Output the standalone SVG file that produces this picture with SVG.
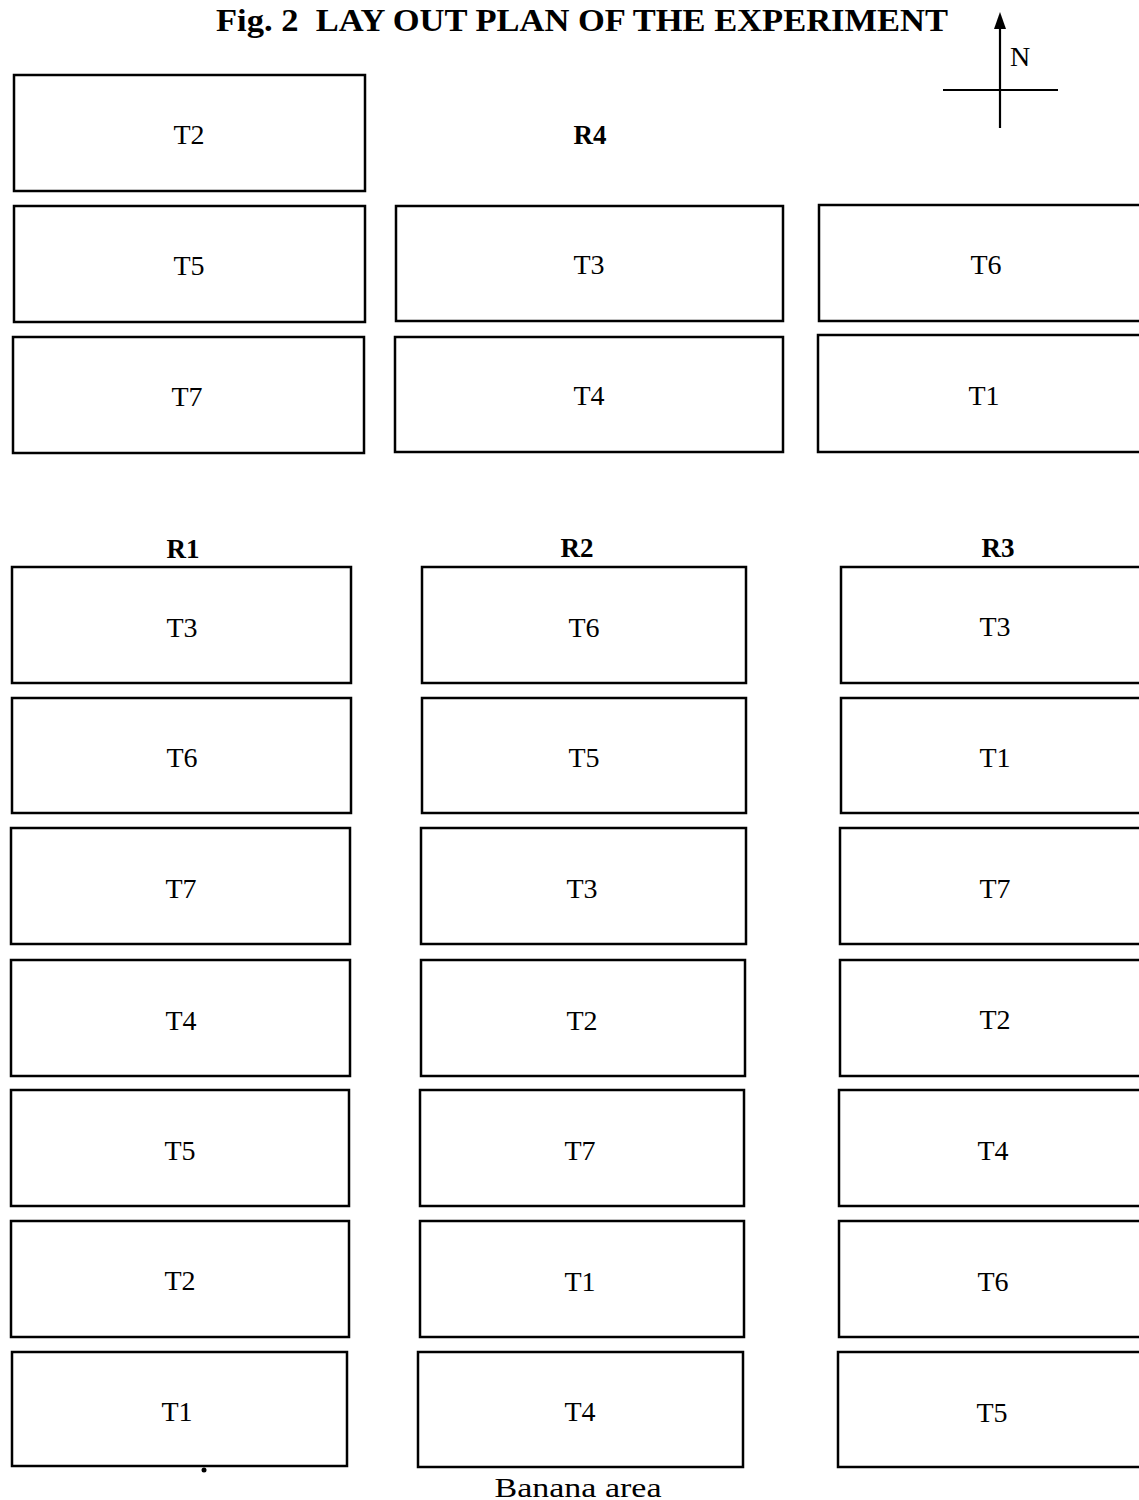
<svg xmlns="http://www.w3.org/2000/svg" width="1139" height="1500" viewBox="0 0 1139 1500">
<style>
.plot{fill:#fff;stroke:#000;stroke-width:2.5}
.lbl{font-family:"Liberation Serif","Times New Roman",serif;font-size:28px;text-anchor:middle;fill:#000}
.rep{font-family:"Liberation Serif","Times New Roman",serif;font-size:27px;font-weight:bold;text-anchor:middle;fill:#000}
.title{font-family:"Liberation Serif","Times New Roman",serif;font-size:32px;font-weight:bold;fill:#000}
</style>
<rect width="1139" height="1500" fill="#fff"/>
<text class="title" x="216" y="31" textLength="732" lengthAdjust="spacingAndGlyphs" xml:space="preserve">Fig. 2  LAY OUT PLAN OF THE EXPERIMENT</text>
<g id="compass">
<line x1="1000" y1="128" x2="1000" y2="24" stroke="#000" stroke-width="2.2"/>
<polygon points="1000,12 994,29 1006,29" fill="#000"/>
<line x1="943" y1="90" x2="1058" y2="90" stroke="#000" stroke-width="2.2"/>
<text class="lbl" x="1020" y="66">N</text>
</g>
<text class="rep" x="590" y="144">R4</text>
<text class="rep" x="183" y="558">R1</text>
<text class="rep" x="577" y="557">R2</text>
<text class="rep" x="998" y="557">R3</text>
<g id="r4-t2"><rect class="plot" x="14" y="75" width="351" height="116"/><text class="lbl" x="189" y="144">T2</text></g>
<g id="r4-t5"><rect class="plot" x="14" y="206" width="351" height="116"/><text class="lbl" x="189" y="275">T5</text></g>
<g id="r4-t3"><rect class="plot" x="396" y="206" width="387" height="115"/><text class="lbl" x="589" y="274">T3</text></g>
<g id="r4-t6"><rect class="plot" x="819" y="205" width="330" height="116"/><text class="lbl" x="986" y="274">T6</text></g>
<g id="r4-t7"><rect class="plot" x="13" y="337" width="351" height="116"/><text class="lbl" x="187" y="406">T7</text></g>
<g id="r4-t4"><rect class="plot" x="395" y="337" width="388" height="115"/><text class="lbl" x="589" y="405">T4</text></g>
<g id="r4-t1"><rect class="plot" x="818" y="335" width="331" height="117"/><text class="lbl" x="984" y="405">T1</text></g>

<g id="r1-t3"><rect class="plot" x="12" y="567" width="339" height="116"/><text class="lbl" x="182" y="637">T3</text></g>
<g id="r1-t6"><rect class="plot" x="12" y="698" width="339" height="115"/><text class="lbl" x="182" y="767">T6</text></g>
<g id="r1-t7"><rect class="plot" x="11" y="828" width="339" height="116"/><text class="lbl" x="181" y="898">T7</text></g>
<g id="r1-t4"><rect class="plot" x="11" y="960" width="339" height="116"/><text class="lbl" x="181" y="1030">T4</text></g>
<g id="r1-t5"><rect class="plot" x="11" y="1090" width="338" height="116"/><text class="lbl" x="180" y="1160">T5</text></g>
<g id="r1-t2"><rect class="plot" x="11" y="1221" width="338" height="116"/><text class="lbl" x="180" y="1290">T2</text></g>
<g id="r1-t1"><rect class="plot" x="12" y="1352" width="335" height="114"/><text class="lbl" x="177" y="1421">T1</text></g>

<g id="r2-t6"><rect class="plot" x="422" y="567" width="324" height="116"/><text class="lbl" x="584" y="637">T6</text></g>
<g id="r2-t5"><rect class="plot" x="422" y="698" width="324" height="115"/><text class="lbl" x="584" y="767">T5</text></g>
<g id="r2-t3"><rect class="plot" x="421" y="828" width="325" height="116"/><text class="lbl" x="582" y="898">T3</text></g>
<g id="r2-t2"><rect class="plot" x="421" y="960" width="324" height="116"/><text class="lbl" x="582" y="1030">T2</text></g>
<g id="r2-t7"><rect class="plot" x="420" y="1090" width="324" height="116"/><text class="lbl" x="580" y="1160">T7</text></g>
<g id="r2-t1"><rect class="plot" x="420" y="1221" width="324" height="116"/><text class="lbl" x="580" y="1291">T1</text></g>
<g id="r2-t4"><rect class="plot" x="418" y="1352" width="325" height="115"/><text class="lbl" x="580" y="1421">T4</text></g>

<g id="r3-t3"><rect class="plot" x="841" y="567" width="310" height="116"/><text class="lbl" x="995" y="636">T3</text></g>
<g id="r3-t1"><rect class="plot" x="841" y="698" width="310" height="115"/><text class="lbl" x="995" y="767">T1</text></g>
<g id="r3-t7"><rect class="plot" x="840" y="828" width="311" height="116"/><text class="lbl" x="995" y="898">T7</text></g>
<g id="r3-t2"><rect class="plot" x="840" y="960" width="311" height="116"/><text class="lbl" x="995" y="1029">T2</text></g>
<g id="r3-t4"><rect class="plot" x="839" y="1090" width="312" height="116"/><text class="lbl" x="993" y="1160">T4</text></g>
<g id="r3-t6"><rect class="plot" x="839" y="1221" width="312" height="116"/><text class="lbl" x="993" y="1291">T6</text></g>
<g id="r3-t5"><rect class="plot" x="838" y="1352" width="313" height="115"/><text class="lbl" x="992" y="1422">T5</text></g>

<circle cx="204" cy="1470" r="2.5" fill="#000"/>
<text class="lbl" x="578" y="1497" font-size="29" textLength="167" lengthAdjust="spacingAndGlyphs">Banana area</text>
<g id="connectors"/>
</svg>
